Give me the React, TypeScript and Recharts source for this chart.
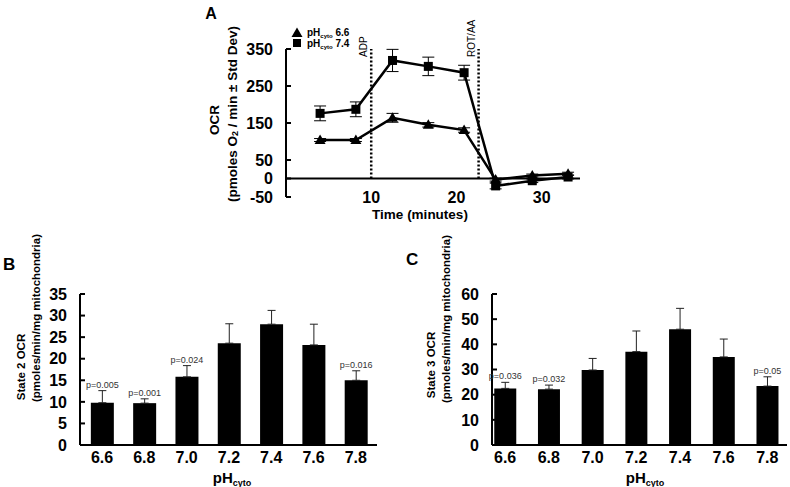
import React from 'react';
import {
  Bar,
  BarChart,
  ComposedChart,
  ErrorBar,
  LabelList,
  Line,
  ReferenceLine,
  XAxis,
  YAxis,
} from 'recharts';

const FONT = 'Arial, "Liberation Sans", Helvetica, sans-serif';

// Panel A: OCR time course (pmoles O2 / min)
const times = [4.0, 8.2, 12.5, 16.7, 20.9, 24.6, 28.9, 33.1];
const ph74 = [176, 187, 319, 303, 286, -20, -6, 4];
const ph74Sd = [20, 20, 30, 25, 20, 8, 5, 5];
const ph66 = [104, 104, 164, 145, 131, -3, 8, 13];
const ph66Sd = [4, 4, 12, 6, 6, 4, 4, 4];
const ocrTicks = [-50, 0, 50, 150, 250, 350];
const timeTicks = [10, 20, 30];
const ADP_TIME = 10;
const ROT_TIME = 22.6;

// Panels B and C: OCR by cytosolic pH
const phCategories = ['6.6', '6.8', '7.0', '7.2', '7.4', '7.6', '7.8'];
const state2 = [9.8, 9.7, 15.8, 23.6, 28.0, 23.2, 15.0];
const state2Err = [2.8, 1.0, 2.6, 4.5, 3.2, 4.8, 2.2];
const state2P = ['p=0.005', 'p=0.001', 'p=0.024', '', '', '', 'p=0.016'];
const state2Ticks = [0, 5, 10, 15, 20, 25, 30, 35];
const state3 = [22.5, 22.2, 29.8, 37.1, 46.0, 35.0, 23.4];
const state3Err = [2.4, 1.6, 4.6, 8.2, 8.3, 7.1, 3.7];
const state3P = ['p=0.036', 'p=0.032', '', '', '', '', 'p=0.05'];
const state3Ticks = [0, 10, 20, 30, 40, 50, 60];

const timeRows = times.map((t, i) => ({
  t,
  sq: ph74[i],
  sqErr: ph74Sd[i],
  tri: ph66[i],
  triErr: ph66Sd[i],
}));

function InsideYTick(props: any) {
  const { x, y, payload } = props;
  return (
    <g>
      <text x={x} y={y} dy="0.36em" textAnchor="end" fontFamily={FONT} fontWeight="bold" fontSize={16} fill="#000">
        {payload.value}
      </text>
      <line x1={x + 13} x2={x + 18} y1={y} y2={y} stroke="#000" strokeWidth={2} />
    </g>
  );
}

function TimeTick(props: any) {
  const { x, y, payload } = props;
  return (
    <text x={x} y={y} dy={6} textAnchor="middle" fontFamily={FONT} fontWeight="bold" fontSize={16} fill="#000">
      {payload.value}
    </text>
  );
}

function PhTick(props: any) {
  const { x, y, payload } = props;
  return (
    <text x={x} y={y} dy={18} textAnchor="middle" fontFamily={FONT} fontWeight="bold" fontSize={16} fill="#000">
      {phCategories[payload.value]}
    </text>
  );
}

function SquareDot(props: any) {
  const { cx, cy, index } = props;
  if (cx == null || cy == null) return <g key={`s-${index}`} />;
  return <rect key={`s-${index}`} x={cx - 4.5} y={cy - 4.5} width={9} height={9} fill="#000" />;
}

function TriangleDot(props: any) {
  const { cx, cy, index } = props;
  if (cx == null || cy == null) return <g key={`t-${index}`} />;
  return <path key={`t-${index}`} d={`M${cx},${cy - 5.5}L${cx + 5.5},${cy + 4}L${cx - 5.5},${cy + 4}Z`} fill="#000" />;
}

function InjectionLabel(props: any) {
  const { viewBox, text } = props;
  if (!viewBox) return null;
  const x = viewBox.x - 4;
  const y = viewBox.y + 8;
  return (
    <text transform={`translate(${x},${y}) rotate(-90)`} textAnchor="start" fontFamily={FONT} fontSize={10} fill="#000">
      {text}
    </text>
  );
}

function makePLabel(values: number[], errs: number[], labels: string[]) {
  return function PLabel(props: any) {
    const txt = props.value;
    if (!txt) return null;
    const i = labels.indexOf(txt);
    const vb = props.viewBox && props.viewBox.width != null ? props.viewBox : props;
    const { x, y, width, height } = vb;
    const top = y - (errs[i] * height) / values[i];
    return (
      <text x={x + width / 2} y={top - 3} textAnchor="middle" fontFamily={FONT} fontSize={9} fill="#333">
        {txt}
      </text>
    );
  };
}

function StateChart(props: {
  values: number[];
  errs: number[];
  pLabels: string[];
  ticks: number[];
  xDomain: [number, number];
  margin: { top: number; right: number; bottom: number; left: number };
  barSize: number;
}) {
  const { values, errs, pLabels, ticks, xDomain, margin, barSize } = props;
  const rows = phCategories.map((c, i) => ({
    idx: i,
    ph: c,
    v: values[i],
    err: [0, errs[i]],
    p: pLabels[i],
  }));
  return (
    <BarChart width={395} height={257} data={rows} margin={margin}>
      <XAxis
        type="number"
        dataKey="idx"
        domain={xDomain}
        allowDataOverflow
        ticks={[0, 1, 2, 3, 4, 5, 6]}
        axisLine={{ stroke: '#000', strokeWidth: 2 }}
        tickLine={false}
        tickSize={0}
        tickMargin={0}
        height={30}
        tick={<PhTick />}
        interval={0}
      />
      <YAxis
        type="number"
        domain={[ticks[0], ticks[ticks.length - 1]]}
        ticks={ticks}
        width={60}
        axisLine={{ stroke: '#000', strokeWidth: 2 }}
        tickLine={false}
        tickSize={6}
        tickMargin={7}
        tick={<InsideYTick />}
        interval={0}
      />
      <Bar dataKey="v" fill="#000" barSize={barSize} isAnimationActive={false}>
        <ErrorBar dataKey="err" direction="y" width={4} stroke="#222" strokeWidth={1} />
        <LabelList dataKey="p" content={makePLabel(values, errs, pLabels)} />
      </Bar>
    </BarChart>
  );
}

function PhTitle({ cx, y }: { cx: number; y: number }) {
  return (
    <text x={cx} y={y} textAnchor="middle" fontFamily={FONT} fontWeight="bold" fontSize={15} fill="#000">
      pH
      <tspan fontSize={9} dy={3}>
        cyto
      </tspan>
    </text>
  );
}

function RotTitle({ cx, cy, size, children }: { cx: number; cy: number; size: number; children: React.ReactNode }) {
  return (
    <text
      transform={`translate(${cx},${cy}) rotate(-90)`}
      textAnchor="middle"
      dominantBaseline="central"
      fontFamily={FONT}
      fontWeight="bold"
      fontSize={size}
      fill="#000"
    >
      {children}
    </text>
  );
}

export default function App() {
  return (
    <div style={{ position: 'absolute', left: 0, top: 0, width: 790, height: 487, background: '#fff', overflow: 'hidden' }}>
      <div style={{ position: 'absolute', left: 0, top: 0 }}>
        <ComposedChart width={790} height={225} data={timeRows} margin={{ top: 49, right: 210, bottom: 8, left: 226 }}>
          <XAxis
            type="number"
            dataKey="t"
            domain={[0, 34.5]}
            allowDataOverflow
            ticks={timeTicks}
            axisLine={false}
            tickLine={false}
            tickSize={0}
            tickMargin={0}
            height={20}
            tick={<TimeTick />}
          />
          <YAxis
            type="number"
            domain={[-50, 350]}
            ticks={ocrTicks}
            width={60}
            axisLine={{ stroke: '#000', strokeWidth: 2 }}
            tickLine={false}
            tickSize={6}
            tickMargin={7}
            tick={<InsideYTick />}
            interval={0}
          />
          <ReferenceLine y={0} stroke="#000" strokeWidth={2} />
          <ReferenceLine
            segment={[{ x: ADP_TIME, y: 0 }, { x: ADP_TIME, y: 350 }]}
            stroke="#000"
            strokeWidth={2.5}
            strokeDasharray="2 2"
            label={<InjectionLabel text="ADP" />}
          />
          <ReferenceLine
            segment={[{ x: ROT_TIME, y: 0 }, { x: ROT_TIME, y: 350 }]}
            stroke="#000"
            strokeWidth={2.5}
            strokeDasharray="2 2"
            label={<InjectionLabel text="ROT/AA" />}
          />
          <Line
            type="linear"
            dataKey="sq"
            stroke="#000"
            strokeWidth={2.5}
            dot={SquareDot}
            activeDot={false}
            isAnimationActive={false}
          >
            <ErrorBar dataKey="sqErr" direction="y" width={6} stroke="#000" strokeWidth={1} />
          </Line>
          <Line
            type="linear"
            dataKey="tri"
            stroke="#000"
            strokeWidth={2.5}
            dot={TriangleDot}
            activeDot={false}
            isAnimationActive={false}
          >
            <ErrorBar dataKey="triErr" direction="y" width={6} stroke="#000" strokeWidth={1} />
          </Line>
        </ComposedChart>
      </div>

      <div style={{ position: 'absolute', left: 0, top: 230 }}>
        <StateChart
          values={state2}
          errs={state2Err}
          pLabels={state2P}
          ticks={state2Ticks}
          xDomain={[-0.52, 6.5]}
          margin={{ top: 64, right: 18, bottom: 12, left: 20 }}
          barSize={23}
        />
      </div>

      <div style={{ position: 'absolute', left: 395, top: 230 }}>
        <StateChart
          values={state3}
          errs={state3Err}
          pLabels={state3P}
          ticks={state3Ticks}
          xDomain={[-0.3, 6.45]}
          margin={{ top: 64, right: 3, bottom: 12, left: 37 }}
          barSize={22}
        />
      </div>

      <svg width={790} height={487} style={{ position: 'absolute', left: 0, top: 0, pointerEvents: 'none' }}>
        <text x={211} y={19} textAnchor="middle" fontFamily={FONT} fontWeight="bold" fontSize={16}>
          A
        </text>
        <text x={3} y={270} fontFamily={FONT} fontWeight="bold" fontSize={17}>
          B
        </text>
        <text x={406} y={265} fontFamily={FONT} fontWeight="bold" fontSize={17}>
          C
        </text>

        {/* legend, panel A */}
        <path d="M297,27.5L302.5,37L291.5,37Z" fill="#000" />
        <text x={307} y={36} fontFamily={FONT} fontWeight="bold" fontSize={10}>
          pH<tspan fontSize={6} dy={2}>cyto</tspan>
          <tspan dy={-2}> 6.6</tspan>
        </text>
        <rect x={293} y={39} width={8} height={8} fill="#000" />
        <text x={307} y={47} fontFamily={FONT} fontWeight="bold" fontSize={10}>
          pH<tspan fontSize={6} dy={2}>cyto</tspan>
          <tspan dy={-2}> 7.4</tspan>
        </text>

        <RotTitle cx={214} cy={120} size={13.5}>
          OCR
        </RotTitle>
        <RotTitle cx={232} cy={114} size={13.5}>
          (pmoles O<tspan fontSize={9} dy={3}>2</tspan>
          <tspan dy={-3}> / min ± Std Dev)</tspan>
        </RotTitle>
        <text x={420} y={219} textAnchor="middle" fontFamily={FONT} fontWeight="bold" fontSize={13.5}>
          Time (minutes)
        </text>

        <RotTitle cx={21} cy={367} size={11.5}>
          State 2 OCR
        </RotTitle>
        <RotTitle cx={36} cy={318} size={11.5}>
          (pmoles/min/mg mitochondria)
        </RotTitle>
        <PhTitle cx={232} y={483} />

        <RotTitle cx={431} cy={365} size={11.5}>
          State 3 OCR
        </RotTitle>
        <RotTitle cx={446} cy={319} size={11.5}>
          (pmoles/min/mg mitochondria)
        </RotTitle>
        <PhTitle cx={645} y={483} />
      </svg>
    </div>
  );
}
